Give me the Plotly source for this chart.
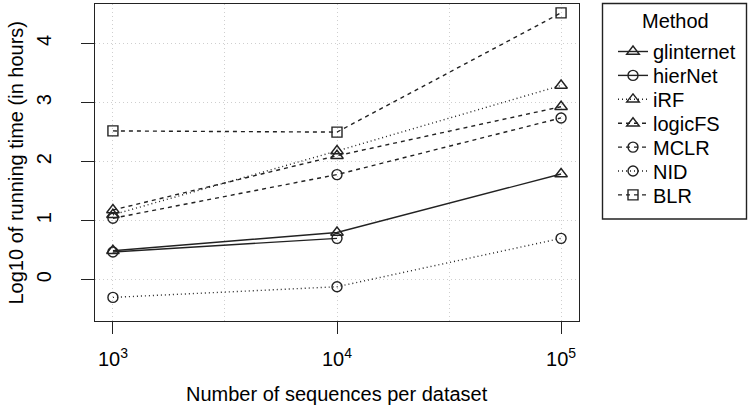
import numpy as np
import plotly.graph_objects as go

# ---------------- data ----------------
n_sequences = [1000, 10000, 100000]
methods = ["glinternet", "hierNet", "iRF", "logicFS", "MCLR", "NID", "BLR"]
glinternet = [0.49, 0.80, 1.79]
hierNet = [0.47, 0.70, None]
iRF = [1.10, 2.18, 3.29]
logicFS = [1.18, 2.10, 2.93]
MCLR = [1.04, 1.78, 2.74]
NID = [-0.30, -0.12, 0.70]
BLR = [2.52, 2.50, 4.52]
x_tick_labels = ["10<sup>3</sup>", "10<sup>4</sup>", "10<sup>5</sup>"]
y_ticks = [0, 1, 2, 3, 4]

series = [glinternet, hierNet, iRF, logicFS, MCLR, NID, BLR]
dashes = ["solid", "solid", "1px,3px", "4px,4px", "4px,4px", "1px,3px", "4px,4px"]
symbols = ["triangle-up-open", "circle-open", "triangle-up-open", "triangle-up-open",
           "circle-open", "circle-open", "square-open"]
sizes = [11, 10, 11, 11, 10, 10, 10]

# ---------------- layout geometry ----------------
W, H = 750, 420
ML, MR, MT, MB = 95, 171, 4, 99
PW, PH = W - ML - MR, H - MT - MB
FONT = "Liberation Sans, Arial, Helvetica, sans-serif"
INK = "#222222"

def px_x(px):
    return (px - ML) / PW

def px_y(py):
    return (H - MB - py) / PH

x_log = np.log10(n_sequences)

fig = go.Figure()
legend_rows = [51.5, 75.4, 99.3, 123.2, 147.1, 171.0, 194.9]
legend_layouts = {}
for i, (name, vals, dash, sym, sz) in enumerate(zip(methods, series, dashes, symbols, sizes)):
    lg = "legend" if i == 0 else f"legend{i+1}"
    fig.add_trace(go.Scatter(
        x=x_log, y=vals, name=name, mode="lines+markers",
        line=dict(color=INK, width=1.4, dash=dash),
        marker=dict(symbol=sym, size=sz, color=INK, line=dict(width=1.4, color=INK)),
        legend=lg, connectgaps=False,
    ))
    legend_layouts[lg] = dict(
        xref="container", yref="container",
        x=613 / W, y=1 - legend_rows[i] / H,
        xanchor="left", yanchor="middle",
        font=dict(family=FONT, size=20, color="black"),
        bgcolor="rgba(0,0,0,0)", borderwidth=0,
    )

grid_color = "#cfcfcf"
fig.update_layout(
    width=W, height=H,
    margin=dict(l=ML, r=MR, t=MT, b=MB),
    paper_bgcolor="white", plot_bgcolor="white",
    font=dict(family=FONT, size=20, color="black"),
    showlegend=True,
    **legend_layouts,
    xaxis=dict(
        range=[2.92, 5.08], tickvals=list(x_log), ticktext=x_tick_labels,
        ticks="outside", ticklen=12, tickwidth=1.4, tickcolor=INK,
        showline=True, mirror=True, linecolor=INK, linewidth=1.4,
        showgrid=True, gridcolor=grid_color, griddash="1px,3px", gridwidth=1,
        minor=dict(dtick=0.5, tick0=3, showgrid=True, gridcolor=grid_color,
                   griddash="1px,3px", gridwidth=1, ticks=""),
        zeroline=False, ticklabelstandoff=8,
        tickfont=dict(size=20),
    ),
    yaxis=dict(
        range=[-0.70, 4.67], tickvals=y_ticks,
        ticks="outside", ticklen=13, tickwidth=1.4, tickcolor=INK,
        showline=True, mirror=True, linecolor=INK, linewidth=1.4,
        showgrid=True, gridcolor=grid_color, griddash="1px,3px", gridwidth=1,
        zeroline=False, tickangle=-90, ticklabelstandoff=22,
        tickfont=dict(size=20),
    ),
    annotations=[
        dict(text="Number of sequences per dataset", xref="paper", yref="paper",
             x=0.5, y=px_y(394), xanchor="center", yanchor="middle",
             showarrow=False, font=dict(size=20)),
        dict(text="Log10 of running time (in hours)", xref="paper", yref="paper",
             x=px_x(15), y=0.5, xanchor="center", yanchor="middle", textangle=-90,
             showarrow=False, font=dict(size=20)),
        dict(text="Method", xref="paper", yref="paper",
             x=px_x(675), y=px_y(21), xanchor="center", yanchor="middle",
             showarrow=False, font=dict(size=20)),
    ],
    shapes=[
        dict(type="rect", xref="paper", yref="paper",
             x0=px_x(602.5), x1=px_x(746.5), y0=px_y(219), y1=px_y(3.5),
             line=dict(color=INK, width=1.4), fillcolor="rgba(0,0,0,0)"),
    ],
)

fig.write_html("out.html")
